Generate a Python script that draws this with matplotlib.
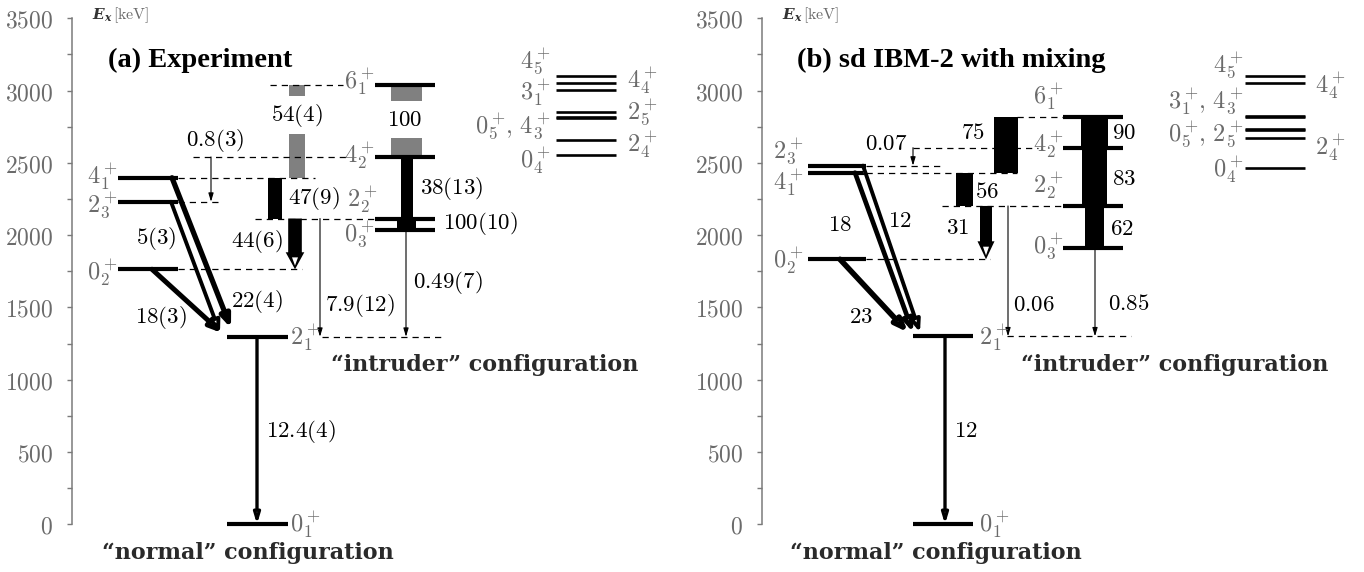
"""Level scheme: experiment vs sd IBM-2 with mixing (B(E2) values in W.u.)."""
import matplotlib
matplotlib.use("Agg")
import matplotlib.pyplot as plt
from matplotlib.patches import Polygon, Rectangle

plt.rcParams["mathtext.fontset"] = "cm"

# ---------------- data ----------------
# level energies, keV
exp_E = {"0_1": 0, "2_1": 1297, "0_2": 1764, "2_3": 2231, "4_1": 2397,
         "0_3": 2034, "2_2": 2115, "4_2": 2541, "6_1": 3041}
ibm_E = {"0_1": 0, "2_1": 1300, "0_2": 1833, "4_1": 2432, "2_3": 2481,
         "0_3": 1909, "2_2": 2202, "4_2": 2605, "6_1": 2819}
# higher levels drawn without transitions
exp_extra_E = [3101, 3055, 3004, 2854, 2819, 2808, 2658, 2555]
ibm_extra_E = [3101, 3050, 2824, 2815, 2734, 2727, 2670, 2462]
exp_extra_left = [r"4_5^+", r"3_1^+", r"0_5^+\!,\,4_3^+", r"0_4^+"]
exp_extra_right = [r"4_4^+", r"2_5^+", r"2_4^+"]
ibm_extra_left = [r"4_5^+", r"3_1^+\!,\,4_3^+", r"0_5^+\!,\,2_5^+", r"0_4^+"]
ibm_extra_right = [r"4_4^+", r"2_4^+"]

# B(E2) values [W.u.]: (from, to, value, printed label)
exp_be2 = [("2_1", "0_1", 12.4, "12.4(4)"), ("0_2", "2_1", 18, "18(3)"),
           ("2_3", "2_1", 5, "5(3)"), ("4_1", "2_1", 22, "22(4)"),
           ("4_2", "2_3", 0.8, "0.8(3)"), ("6_1", "4_1", 54, "54(4)"),
           ("4_1", "2_2", 47, "47(9)"), ("2_2", "0_2", 44, "44(6)"),
           ("2_2", "2_1", 7.9, "7.9(12)"), ("0_3", "2_1", 0.49, "0.49(7)"),
           ("6_1", "4_2", 100, "100"), ("4_2", "2_2", 38, "38(13)"),
           ("2_2", "0_3", 100, "100(10)")]
ibm_be2 = [("2_1", "0_1", 12, "12"), ("0_2", "2_1", 23, "23"),
           ("4_1", "2_1", 18, "18"), ("2_3", "2_1", 12, "12"),
           ("4_2", "2_3", 0.07, "0.07"), ("6_1", "4_1", 75, "75"),
           ("4_1", "2_2", 56, "56"), ("2_2", "0_2", 31, "31"),
           ("2_2", "2_1", 0.06, "0.06"), ("0_3", "2_1", 0.85, "0.85"),
           ("6_1", "4_2", 90, "90"), ("4_2", "2_2", 83, "83"),
           ("2_2", "0_3", 62, "62")]

PX = 3500 / 506          # keV per pixel in the vertical direction
WU = 0.31                # bar width (px) per W.u.
GREY = "#6b6b6b"
FS = 16.5                # B(E2) numbers
FL = 17.5                # level labels


# ---------------- drawing helpers ----------------
def level(ax, x0, x1, E, lw=3.0):
    ax.plot([x0, x1], [E, E], color="black", lw=lw, solid_capstyle="butt",
            clip_on=False)


def dashed(ax, x0, x1, E):
    ax.plot([x0, x1], [E, E], color="black", lw=0.9, ls=(0, (5, 4)),
            clip_on=False)


def label(ax, x, E, s, ha="left"):
    ax.text(x, E, f"${s}$", ha=ha, va="center", color=GREY, fontsize=FL)


def num(ax, x, E, s, ha="left"):
    ax.text(x, E, f"${s}$", ha=ha, va="center", color="black", fontsize=FS)


def band(ax, xc, val, Et, Eb, color="black", gap=None, width=None):
    w = width if width else WU * val
    segs = [(Et, Eb)] if gap is None else [(Et, gap + 130), (gap - 130, Eb)]
    for a, b in segs:
        ax.add_patch(Rectangle((xc - w / 2, b), w, a - b, color=color, lw=0))


def fat_arrow(ax, xc, val, Et, Eb, hl=17):
    w = max(WU * val, 12)
    hw, h = w / 2 + 2.5, hl * PX
    Eh = Eb + h
    ax.add_patch(Polygon([(xc - w / 2, Et), (xc + w / 2, Et), (xc + w / 2, Eh),
                          (xc + hw, Eh), (xc, Eb), (xc - hw, Eh),
                          (xc - w / 2, Eh)], closed=True, color="black", lw=0))
    ax.add_patch(Polygon([(xc - 3, Eh - 0.3 * h), (xc + 3, Eh - 0.3 * h),
                          (xc, Eb + 0.22 * h)], closed=True, color="white", lw=0))


def thin_arrow(ax, x, Et, Eb):
    ax.annotate("", xy=(x, Eb), xytext=(x, Et),
                arrowprops=dict(arrowstyle="-|>,head_length=0.5,head_width=0.15",
                                lw=0.8, color="black", shrinkA=0, shrinkB=0))


def diag(ax, p0, p1, lw, hollow=False):
    ax.annotate("", xy=p1, xytext=p0,
                arrowprops=dict(arrowstyle="-|>,head_length=0.7,head_width=0.28",
                                lw=lw, fc="white", ec="black",
                                shrinkA=0, shrinkB=0))
    if hollow:
        f = 0.93
        ax.plot([p0[0], p0[0] + f * (p1[0] - p0[0])],
                [p0[1] - 20, p0[1] + f * (p1[1] - p0[1])],
                color="white", lw=lw * 0.4, solid_capstyle="butt")


def setup(ax):
    ax.set_xlim(0, 600)
    ax.set_ylim(0, 3500)
    for s in ("top", "right", "bottom"):
        ax.spines[s].set_visible(False)
    ax.spines["left"].set_color("#7a7a7a")
    ax.spines["left"].set_linewidth(1.1)
    ax.set_xticks([])
    ticks = list(range(0, 3501, 500))
    ax.set_yticks(ticks)
    ax.set_yticklabels([f"${t}$" for t in ticks])
    ax.set_yticks(range(250, 3500, 500), minor=True)
    ax.tick_params(axis="y", which="both", direction="out", length=3.5,
                   width=1.0, color="#7a7a7a", labelcolor=GREY,
                   labelsize=17, pad=10)
    ax.text(20, 3523, r"$\mathbfit{E_x}$", ha="left", va="center",
            fontsize=11, color="#333333", math_fontfamily="dejavuserif")
    ax.text(41, 3523, r"$[\mathrm{keV}]$", ha="left", va="center",
            fontsize=11.5, color=GREY)
    cfg = dict(family="DejaVu Serif", weight="bold", fontsize=16,
               color="#2a2a2a", va="center")
    return cfg


fig = plt.figure(figsize=(13.64, 5.72), dpi=100)
W, H = 1364, 572
axL = fig.add_axes([72 / W, 47.7 / H, 600 / W, 506 / H])
axR = fig.add_axes([762 / W, 47.7 / H, 600 / W, 506 / H])

# ============================ (a) Experiment ============================
ax, E = axL, exp_E
b = {(f, t): (v, s) for f, t, v, s in exp_be2}
cfg = setup(ax)
ax.text(36, 3211, "(a) Experiment", family="Liberation Serif",
        weight="bold", fontsize=20.5, va="center")

for k in ("4_1", "2_3", "0_2"):
    level(ax, 46, 106, E[k])
for k in ("2_1", "0_1"):
    level(ax, 155, 216, E[k])
for k in ("6_1", "4_2", "2_2", "0_3"):
    level(ax, 303, 363, E[k])
for e in exp_extra_E:
    level(ax, 484, 544, e, lw=1.9)

dashed(ax, 106, 243, E["4_1"]); dashed(ax, 106, 151, E["2_3"])
dashed(ax, 106, 230, E["0_2"]); dashed(ax, 121, 278, E["4_2"])
dashed(ax, 198, 271, E["6_1"]); dashed(ax, 183, 303, E["2_2"])
dashed(ax, 250, 369, E["2_1"])

# B(E2) bars
band(ax, 225, b["6_1", "4_1"][0], E["6_1"], E["4_1"], color="#808080", gap=2831)
band(ax, 334.5, b["6_1", "4_2"][0], E["6_1"], E["4_2"], color="#808080", gap=2800)
band(ax, 203, b["4_1", "2_2"][0], E["4_1"], E["2_2"])
band(ax, 335, b["4_2", "2_2"][0], E["4_2"], E["2_2"])
band(ax, 334.5, b["2_2", "0_3"][0], E["2_2"], E["0_3"], width=19)
fat_arrow(ax, 223, b["2_2", "0_2"][0], E["2_2"], E["0_2"])

thin_arrow(ax, 139, E["4_2"], E["2_3"])
thin_arrow(ax, 248, E["2_2"], E["2_1"])
thin_arrow(ax, 334, E["0_3"], E["2_1"])
ax.annotate("", xy=(185, E["0_1"]), xytext=(185, E["2_1"]),
            arrowprops=dict(arrowstyle="-|>,head_length=0.6,head_width=0.18",
                            lw=2.4, fc="white", ec="black", shrinkA=0, shrinkB=0))
diag(ax, (80, E["0_2"]), (150, 1323), 3.6)
diag(ax, (99, E["2_3"]), (148, 1323), 2.8, hollow=True)
diag(ax, (100, E["4_1"]), (159, 1357), 3.8)

# level labels
label(ax, 45, 2399, "4_1^+", ha="right"); label(ax, 45, 2200, "2_3^+", ha="right")
label(ax, 45, 1737, "0_2^+", ha="right")
label(ax, 218, 1283, "2_1^+"); label(ax, 218, -10, "0_1^+")
label(ax, 302, 3055, "6_1^+", ha="right"); label(ax, 302, 2546, "4_2^+", ha="right")
label(ax, 305, 2243, "2_2^+", ha="right"); label(ax, 302, 2001, "0_3^+", ha="right")
for s, e in zip(exp_extra_left, [3200, 2981, 2750, 2508]):
    label(ax, 478, e, s, ha="right")
for s, e in zip(exp_extra_right, [3062, 2843, 2624]):
    label(ax, 555, e, s)

# B(E2) labels
num(ax, 143, 2657, b["4_2", "2_3"][1], ha="center")
num(ax, 225, 2831, b["6_1", "4_1"][1], ha="center")
num(ax, 333, 2800, b["6_1", "4_2"][1], ha="center")
num(ax, 216, 2256, b["4_1", "2_2"][1])
num(ax, 348, 2326, b["4_2", "2_2"][1])
num(ax, 371, 2083, b["2_2", "0_3"][1])
num(ax, 211, 1953, b["2_2", "0_2"][1], ha="right")
num(ax, 84, 1980, b["2_3", "2_1"][1], ha="center")
num(ax, 185, 1540, b["4_1", "2_1"][1], ha="center")
num(ax, 89, 1427, b["0_2", "2_1"][1], ha="center")
num(ax, 253, 1516, b["2_2", "2_1"][1])
num(ax, 341, 1674, b["0_3", "2_1"][1])
num(ax, 194, 640, b["2_1", "0_1"][1])

ax.text(259, 1101, "\u201cintruder\u201d configuration", ha="left", **cfg)
ax.text(30, -199, "\u201cnormal\u201d configuration", ha="left", **cfg)

# ====================== (b) sd IBM-2 with mixing ========================
ax, E = axR, ibm_E
b = {(f, t): (v, s) for f, t, v, s in ibm_be2}
cfg = setup(ax)
ax.text(35, 3211, "(b) sd IBM-2 with mixing", family="Liberation Serif",
        weight="bold", fontsize=20.5, va="center")

for k in ("2_3", "4_1", "0_2"):
    level(ax, 46, 104, E[k])
for k in ("2_1", "0_1"):
    level(ax, 151, 211, E[k])
for k in ("6_1", "4_2", "2_2", "0_3"):
    level(ax, 301, 361, E[k])
for e in ibm_extra_E:
    level(ax, 483, 543, e, lw=1.9)

dashed(ax, 104, 181, E["2_3"]); dashed(ax, 104, 255, E["4_1"])
dashed(ax, 104, 228, E["0_2"]); dashed(ax, 151, 276, E["4_2"])
dashed(ax, 255, 301, E["6_1"]); dashed(ax, 180, 301, E["2_2"])
dashed(ax, 245, 369, E["2_1"])

band(ax, 244, b["6_1", "4_1"][0], E["6_1"], E["4_1"])
band(ax, 202.5, b["4_1", "2_2"][0], E["4_1"], E["2_2"])
band(ax, 332.5, b["6_1", "4_2"][0], E["6_1"], E["4_2"])
band(ax, 332.5, b["4_2", "2_2"][0], E["4_2"], E["2_2"])
band(ax, 332.5, b["2_2", "0_3"][0], E["2_2"], E["0_3"])
fat_arrow(ax, 224, b["2_2", "0_2"][0], E["2_2"], E["0_2"], hl=18)

thin_arrow(ax, 151, E["4_2"], E["2_3"])
thin_arrow(ax, 246, E["2_2"], E["2_1"])
thin_arrow(ax, 333, E["0_3"], E["2_1"])
ax.annotate("", xy=(183, E["0_1"]), xytext=(183, E["2_1"]),
            arrowprops=dict(arrowstyle="-|>,head_length=0.6,head_width=0.18",
                            lw=2.4, fc="white", ec="black", shrinkA=0, shrinkB=0))
diag(ax, (78, E["0_2"]), (146, 1328), 4.0)
diag(ax, (93, E["4_1"]), (151, 1328), 3.4)
diag(ax, (101, E["2_3"]), (158, 1328), 2.8, hollow=True)

label(ax, 41, 2575, "2_3^+", ha="right"); label(ax, 41, 2361, "4_1^+", ha="right")
label(ax, 41, 1816, "0_2^+", ha="right")
label(ax, 217, 1283, "2_1^+"); label(ax, 217, -10, "0_1^+")
label(ax, 301, 2955, "6_1^+", ha="right"); label(ax, 301, 2623, "4_2^+", ha="right")
label(ax, 301, 2334, "2_2^+", ha="right"); label(ax, 301, 1919, "0_3^+", ha="right")
for s, e in zip(ibm_extra_left, [3170, 2923, 2696, 2451]):
    label(ax, 481, e, s, ha="right")
for s, e in zip(ibm_extra_right, [3026, 2599]):
    label(ax, 553, e, s)

num(ax, 124, 2636, b["4_2", "2_3"][1], ha="center")
num(ax, 211, 2713, b["6_1", "4_1"][1], ha="center")
num(ax, 213, 2299, b["4_1", "2_2"][1])
num(ax, 196, 2056, b["2_2", "0_2"][1], ha="center")
num(ax, 350, 2707, b["6_1", "4_2"][1])
num(ax, 350, 2395, b["4_2", "2_2"][1])
num(ax, 348, 2049, b["2_2", "0_3"][1])
num(ax, 78, 2071, b["4_1", "2_1"][1], ha="center")
num(ax, 138, 2104, b["2_3", "2_1"][1], ha="center")
num(ax, 99, 1434, b["0_2", "2_1"][1], ha="center")
num(ax, 251, 1517, b["2_2", "2_1"][1])
num(ax, 346, 1530, b["0_3", "2_1"][1])
num(ax, 192, 650, b["2_1", "0_1"][1])

ax.text(259, 1101, "\u201cintruder\u201d configuration", ha="left", **cfg)
ax.text(28, -199, "\u201cnormal\u201d configuration", ha="left", **cfg)

fig.savefig("out.png", dpi=100)
